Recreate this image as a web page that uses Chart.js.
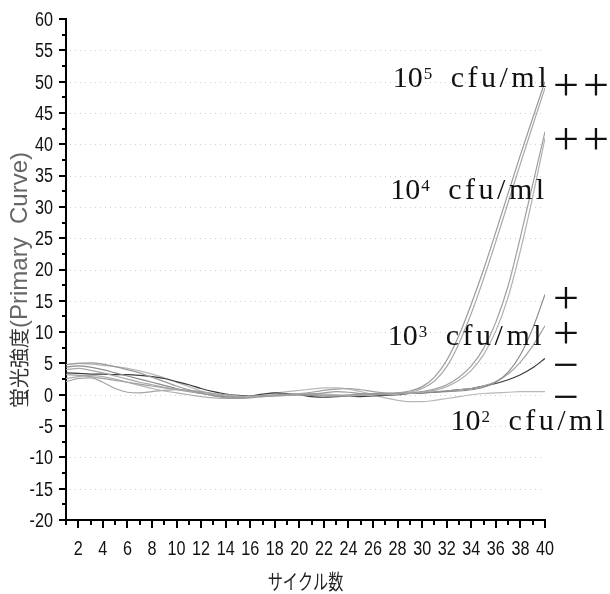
<!DOCTYPE html>
<html lang="ja">
<head>
<meta charset="utf-8">
<title>蛍光強度 (Primary Curve)</title>
<script src="https://cdn.jsdelivr.net/npm/chart.js@4.4.1/dist/chart.umd.min.js"></script>
<style>
  html, body { margin: 0; padding: 0; background: #fff; }
  #wrap { width: 610px; height: 594px; }
</style>
</head>
<body>
<div id="wrap"><canvas id="pcrChart" width="610" height="594"></canvas></div>
<script>
// PCR cycles 1-40
const cycles = [1, 2, 3, 4, 5, 6, 7, 8, 9, 10, 11, 12, 13, 14, 15, 16, 17, 18, 19, 20,
                21, 22, 23, 24, 25, 26, 27, 28, 29, 30, 31, 32, 33, 34, 35, 36, 37, 38, 39, 40];

// fluorescence per cycle, two wells per dilution
const curve1e5a = [4.8, 5.0, 5.1, 4.9, 4.5, 4.0, 3.5, 2.8, 2.1, 1.4, 0.8, 0.3, -0.2, -0.5,
                   -0.6, -0.5, -0.3, -0.2, -0.1, 0.0, 0.1, 0.3, 0.5, 0.4, 0.2, 0.1, 0.1, 0.3,
                   0.6, 1.3, 2.8, 5.5, 9.5, 14.5, 20.0, 26.0, 32.2, 38.3, 44.2, 50.0];
const curve1e5b = [4.0, 4.2, 3.9, 3.5, 3.0, 2.5, 2.0, 1.6, 1.2, 0.9, 0.6, 0.4, 0.2, 0.0,
                   -0.2, -0.3, -0.3, -0.2, -0.1, 0.0, 0.0, -0.1, -0.2, -0.2, -0.1, 0.0, 0.1, 0.2,
                   0.4, 1.0, 2.2, 4.5, 8.2, 13.0, 18.5, 24.5, 30.7, 36.9, 43.0, 49.0];
const curve1e4a = [3.2, 3.1, 2.9, 2.6, 2.3, 2.0, 1.7, 1.4, 1.1, 0.8, 0.5, 0.2, 0.0, -0.2,
                   -0.3, -0.2, -0.1, 0.0, 0.1, 0.2, 0.4, 0.7, 0.9, 1.0, 0.8, 0.5, 0.3, 0.2,
                   0.3, 0.5, 0.9, 1.6, 2.8, 4.6, 7.4, 11.6, 17.4, 25.2, 33.6, 42.0];
const curve1e4b = [2.6, 2.9, 3.1, 2.9, 2.5, 2.0, 1.5, 1.0, 0.6, 0.3, 0.0, -0.3, -0.5, -0.6,
                   -0.6, -0.4, -0.2, -0.1, 0.0, 0.1, 0.2, 0.1, 0.0, -0.1, -0.1, 0.0, 0.0, 0.1,
                   0.2, 0.4, 0.7, 1.3, 2.3, 3.9, 6.4, 10.2, 15.6, 23.0, 31.6, 41.0];
const curve1e3a = [4.4, 4.6, 4.4, 4.0, 3.5, 3.0, 2.5, 2.0, 1.5, 1.0, 0.6, 0.2, -0.1, -0.3,
                   -0.4, -0.3, -0.2, -0.1, 0.0, 0.0, -0.1, -0.2, -0.2, -0.1, 0.0, 0.1, 0.2, 0.2,
                   0.3, 0.3, 0.4, 0.5, 0.6, 0.8, 1.2, 2.0, 3.6, 6.4, 10.6, 16.0];
const curve1e3b = [2.1, 2.6, 2.7, 2.0, 1.0, 0.4, 0.3, 0.5, 0.7, 0.8, 0.7, 0.5, 0.2, 0.0,
                   -0.2, -0.3, -0.2, -0.1, 0.0, 0.1, 0.1, 0.0, -0.1, 0.0, 0.1, 0.2, 0.2, 0.3,
                   0.3, 0.4, 0.5, 0.6, 0.8, 1.0, 1.4, 2.1, 3.3, 5.2, 7.8, 11.0];
const curve1e2a = [3.5, 3.4, 3.3, 3.3, 3.2, 3.2, 3.1, 2.9, 2.6, 2.1, 1.6, 1.0, 0.5, 0.1,
                   -0.1, -0.2, 0.1, 0.3, 0.2, 0.0, -0.3, -0.4, -0.3, -0.2, -0.3, -0.2, -0.1, 0.0,
                   0.2, 0.3, 0.4, 0.6, 0.8, 1.0, 1.4, 1.8, 2.4, 3.2, 4.3, 5.8];
const curve1e2b = [4.8, 5.0, 4.9, 4.7, 4.5, 4.2, 3.8, 3.3, 2.7, 2.0, 1.3, 0.6, 0.0, -0.4,
                   -0.5, -0.3, 0.0, 0.3, 0.5, 0.7, 0.9, 1.1, 1.1, 0.9, 0.5, 0.0, -0.5, -0.9,
                   -1.1, -1.1, -0.9, -0.6, -0.3, 0.0, 0.2, 0.3, 0.4, 0.5, 0.5, 0.5];

// labels written beside the curves
const concExponents = ['5', '4', '3', '2'];
const judgements = ['++', '++', '+', '+', '\u2212', '\u2212'];

const series = [curve1e5a, curve1e5b, curve1e4a, curve1e4b, curve1e3a, curve1e3b, curve1e2a, curve1e2b];
const lineColors = ['#9a9a9a', '#a8a8a8', '#a0a0a0', '#b0b0b0', '#8c8c8c', '#a4a4a4', '#3a3a3a', '#b8b8b8'];

// tick labels are drawn squeezed, the plot software used a narrow sans
const tickFont = "19.5px 'Liberation Sans', Arial, sans-serif";
const tickSqueeze = 0.83;

function narrowText(ctx, text, x, y, align) {
  ctx.save();
  ctx.translate(x, y);
  ctx.scale(tickSqueeze, 1);
  ctx.textAlign = align;
  ctx.textBaseline = 'middle';
  ctx.fillText(text, 0, 0);
  ctx.restore();
}

// hand-drawn parts of the plot: dotted grid, tick marks, titles, dilution notes
const pcrDecor = {
  id: 'pcrDecor',
  beforeDatasetsDraw(chart) {
    const { ctx, scales: { x, y } } = chart;
    ctx.save();
    ctx.strokeStyle = '#cfcfcf';
    ctx.lineWidth = 1;
    ctx.setLineDash([1, 4]);
    y.ticks.forEach(t => {
      if (t.value % 5 !== 0 || t.value <= y.min || t.value >= y.max) return;
      const py = Math.round(y.getPixelForValue(t.value)) + 0.5;
      ctx.beginPath();
      ctx.moveTo(x.left + 4, py);
      ctx.lineTo(x.right, py);
      ctx.stroke();
    });
    ctx.restore();
  },
  afterDraw(chart) {
    const { ctx, scales: { x, y } } = chart;
    ctx.save();

    // tick marks, long on labelled values
    ctx.strokeStyle = '#000';
    ctx.lineWidth = 2;
    y.ticks.forEach(t => {
      const py = Math.round(y.getPixelForValue(t.value));
      const len = t.value % 5 === 0 ? 7 : 4;
      ctx.beginPath();
      ctx.moveTo(y.right - len, py);
      ctx.lineTo(y.right, py);
      ctx.stroke();
    });
    x.ticks.forEach(t => {
      const px = Math.round(x.getPixelForValue(t.value));
      const len = t.value % 2 === 0 ? 8 : 5;
      ctx.beginPath();
      ctx.moveTo(px, x.top);
      ctx.lineTo(px, x.top + len);
      ctx.stroke();
    });

    // tick labels
    ctx.fillStyle = '#111';
    ctx.font = tickFont;
    y.ticks.forEach(t => {
      if (t.value % 5 !== 0) return;
      narrowText(ctx, String(t.value), y.right - 13, y.getPixelForValue(t.value) + 1.5, 'right');
    });
    x.ticks.forEach(t => {
      if (t.value % 2 !== 0) return;
      narrowText(ctx, String(t.value), x.getPixelForValue(t.value), x.top + 30, 'center');
    });

    // y axis title, read bottom to top
    ctx.save();
    ctx.translate(19, 408);
    ctx.rotate(-Math.PI / 2);
    ctx.textAlign = 'left';
    ctx.textBaseline = 'middle';
    ctx.font = "20px 'Noto Sans CJK JP'";
    ctx.fillStyle = '#333';
    ctx.fillText('蛍光強度', 0, 0);
    const cjkW = ctx.measureText('蛍光強度').width;
    ctx.font = "24px 'Liberation Sans', sans-serif";
    ctx.fillStyle = '#666';
    ctx.fillText('(Primary  Curve)', cjkW, 1);
    ctx.restore();

    // x axis title, narrow glyphs
    ctx.save();
    ctx.translate((x.left + x.right) / 2, 581);
    ctx.scale(0.72, 1);
    ctx.textAlign = 'center';
    ctx.textBaseline = 'middle';
    ctx.font = "21px 'Noto Sans CJK JP'";
    ctx.fillStyle = '#222';
    ctx.fillText('サイクル数', 0, 0);
    ctx.restore();

    // dilution notes: 10^n cfu/ml
    const concPos = [[27.6, 49.1], [27.4, 31.2], [27.2, 8.0], [32.3, -5.6]];
    ctx.fillStyle = '#111';
    ctx.textAlign = 'left';
    ctx.textBaseline = 'alphabetic';
    concExponents.forEach((e, i) => {
      const x0 = x.getPixelForValue(concPos[i][0]);
      const yb = y.getPixelForValue(concPos[i][1]);
      ctx.font = "30px 'Liberation Serif', serif";
      ctx.fillText('10', x0, yb);
      ctx.font = "17px 'Liberation Serif', serif";
      ctx.fillText(e, x0 + 31, yb - 8);
      ctx.font = "30px 'Liberation Serif', serif";
      let cx = x0 + 58;
      for (const ch of 'cfu/ml') {
        ctx.fillText(ch, cx, yb);
        cx += ctx.measureText(ch).width + 3.5;
      }
    });

    // judgement marks at the right edge
    const judgeY = [49.5, 40.8, 15.5, 9.9, 4.8, -0.3];
    ctx.font = "46px 'Liberation Serif', serif";
    judgements.forEach((s, i) => {
      const cy = y.getPixelForValue(judgeY[i]);
      let cx = x.getPixelForValue(40.65);
      for (const ch of s) {
        const m = ctx.measureText(ch);
        const base = cy + (m.actualBoundingBoxAscent - m.actualBoundingBoxDescent) / 2;
        ctx.fillText(ch, cx, base);
        cx += m.width + 4;
      }
    });

    ctx.restore();
  }
};

new Chart(document.getElementById('pcrChart'), {
  type: 'line',
  data: {
    datasets: series.map((vals, i) => ({
      data: cycles.map((c, j) => ({ x: c, y: vals[j] })),
      borderColor: lineColors[i],
      borderWidth: 1.2,
      pointRadius: 0,
      fill: false,
      cubicInterpolationMode: 'monotone'
    }))
  },
  options: {
    responsive: false,
    animation: false,
    layout: { padding: { top: 19, right: 65, left: 0, bottom: 0 } },
    plugins: { legend: { display: false }, tooltip: { enabled: false } },
    scales: {
      x: {
        type: 'linear',
        min: 1,
        max: 40,
        grid: { display: false, drawTicks: false },
        border: { display: true, color: '#000', width: 2 },
        ticks: { stepSize: 1, autoSkip: false, maxRotation: 0, display: false },
        afterFit: s => { s.height = 74; }
      },
      y: {
        min: -20,
        max: 60,
        grid: { display: false, drawTicks: false },
        border: { display: true, color: '#000', width: 2 },
        ticks: { stepSize: 2.5, autoSkip: false, display: false },
        afterFit: s => { s.width = 66; }
      }
    }
  },
  plugins: [pcrDecor]
});
</script>
</body>
</html>
